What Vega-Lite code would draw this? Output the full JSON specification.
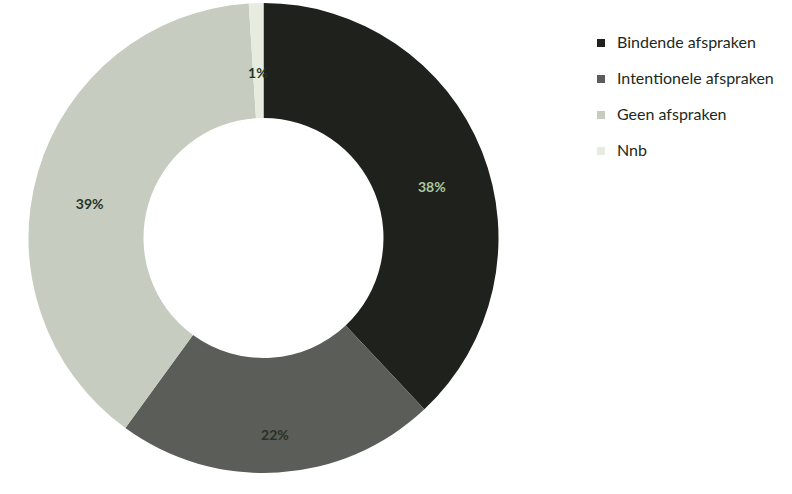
{
  "$schema": "https://vega.github.io/schema/vega-lite/v6.json",
  "width": 527,
  "height": 476,
  "autosize": {"type": "none"},
  "padding": {"left": 0, "top": 0, "right": 265, "bottom": 18},
  "background": "white",
  "config": {"view": {"stroke": null}},
  "data": {
    "values": [
      {"i": 1, "cat": "Bindende afspraken", "pct": 38, "label": "38%"},
      {"i": 2, "cat": "Intentionele afspraken", "pct": 22, "label": "22%"},
      {"i": 3, "cat": "Geen afspraken", "pct": 39, "label": "39%"},
      {"i": 4, "cat": "Nnb", "pct": 1, "label": "1%"}
    ]
  },
  "encoding": {
    "theta": {"field": "pct", "type": "quantitative", "stack": true},
    "order": {"field": "i", "type": "quantitative"}
  },
  "layer": [
    {
      "mark": {"type": "arc", "innerRadius": 120, "outerRadius": 235},
      "encoding": {
        "color": {
          "field": "cat",
          "type": "nominal",
          "sort": null,
          "scale": {
            "domain": ["Bindende afspraken", "Intentionele afspraken", "Geen afspraken", "Nnb"],
            "range": ["#1f211d", "#5b5d59", "#c6ccc0", "#e6ede0"]
          },
          "legend": {
            "title": null,
            "orient": "none",
            "legendX": 593,
            "legendY": 35,
            "symbolType": "square",
            "symbolSize": 64,
            "symbolStrokeWidth": 0,
            "labelFont": "Lato",
            "labelFontSize": 16,
            "labelColor": "#1c2a1c",
            "labelOffset": 8,
            "rowPadding": 20
          }
        }
      }
    },
    {
      "mark": {"type": "text", "dy": 17, "font": "Lato", "fontSize": 14, "fontWeight": "bold"},
      "encoding": {
        "text": {"field": "label"},
        "radius": {"condition": {"test": "datum.cat === 'Nnb'", "value": 215}, "value": 181},
        "color": {"condition": {"test": "datum.cat === 'Bindende afspraken'", "value": "#a9c8a2"}, "value": "#263326"}
      }
    }
  ]
}
